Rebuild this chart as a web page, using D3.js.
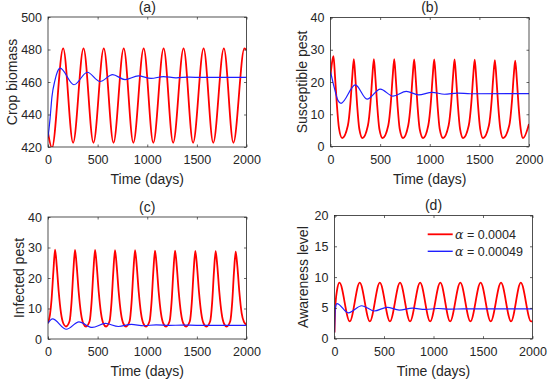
<!DOCTYPE html>
<html>
<head>
<meta charset="utf-8">
<script src="https://cdn.jsdelivr.net/npm/d3@7"></script>
<style>
  html, body { margin: 0; padding: 0; background: #fff; }
  svg { display: block; }
  text { font-family: "Liberation Sans", Arial, Helvetica, sans-serif; fill: #262626; }
</style>
</head>
<body>
<svg id="chart" width="550" height="385"></svg>
<script>
// ---------------- DATA ----------------
const xTicks = [0, 500, 1000, 1500, 2000];
const cropTicks = [420, 440, 460, 480, 500];
const suscTicks = [0, 10, 20, 30, 40];
const infTicks = [0, 10, 20, 30, 40];
const awareTicks = [0, 5, 10, 15, 20];
const panelTitles = ["(a)", "(b)", "(c)", "(d)"];
const yLabels = ["Crop biomass", "Susceptible pest", "Infected pest", "Awareness level"];
const xLabel = "Time (days)";
const legendLabels = ["0.0004", "0.00049"];

// [time, value] pairs
const cropRed = [[0,429],[40,419.5],[153,480.7],[253,422.6],[358,480.7],[458,422.6],[562,480.7],[660,422.6],
  [763,480.7],[860,422.6],[964,480.7],[1061,422.6],[1165,480.7],[1261,422.6],[1366,480.7],[1462,422.6],
  [1568,480.7],[1665,422.6],[1772,480.7],[1868,422.6],[1979,480.7],[2000,479.6]];
const cropBlue = [[0,426],[10,431],[20,437],[40,451],[70,461],[95,466.3],[122,468.5],[262,458.3],[396,466],
  [524,460.3],[651,464.5],[776,461.5],[910,463.8],[1038,462.2],[1162,463.3],[1290,462.6],[1420,463],
  [1550,462.8],[2000,462.8]];

const suscRed = [[0,22],[15,26],[30,28],[46,21.5],[63,13.5],[85,5.8],[118,2.6],
  [175,6.5],[202,14],[219,21.5],[235,27.1],[251,21],[268,13],[290,5.5],[322,2.6],
  [377,6.5],[404,14],[421,21.5],[437,27.1],[453,21],[470,13],[492,5.5],[525,2.6],
  [582,6.5],[609,14],[626,21.5],[642,27.1],[658,21],[675,13],[697,5.5],[731,2.6],
  [783,6.5],[810,14],[827,21.5],[843,27],[859,21],[876,13],[898,5.5],[933,2.6],
  [985,6.5],[1012,14],[1029,21.5],[1045,27],[1061,21],[1078,13],[1100,5.5],[1134,2.6],
  [1190,6.5],[1217,14],[1234,21.5],[1250,27],[1266,21],[1283,13],[1305,5.5],[1336,2.6],
  [1393,6.5],[1420,14],[1437,21.5],[1453,26.9],[1469,21],[1486,13],[1508,5.5],[1537,2.6],
  [1596,6.5],[1623,14],[1640,21.5],[1656,26.8],[1672,21],[1689,13],[1711,5.5],[1739,2.6],
  [1801,6.5],[1828,14],[1845,21.5],[1861,26.6],[1877,21],[1894,13],[1916,5.5],[1940,2.6],
  [2000,7]];
const suscBlue = [[0,23.2],[40,18],[75,14.3],[106,13.4],[250,19.1],[368,14.7],[502,17.8],[630,15.6],
  [764,17.1],[888,16.0],[1023,16.8],[1148,16.2],[1280,16.55],[1410,16.35],[2000,16.4]];

const infRed = [[0,5.2],[20,8],[36,13],[54,22],[71,29.3],[88,24],[108,15.5],[131,8.5],[156,5],[181,4.1],
  [217,5.8],[237,12],[255,22],[272,29.2],[289,24],[309,15.5],[332,8.5],[357,5],[383,4.1],
  [419,5.8],[439,12],[457,22],[474,29.2],[491,24],[511,15.5],[534,8.5],[559,5],[585,4.1],
  [620,5.8],[640,12],[658,22],[675,29.1],[692,24],[712,15.5],[735,8.5],[760,5],[786,4.1],
  [822,5.8],[842,12],[860,22],[877,29.1],[894,24],[914,15.5],[937,8.5],[962,5],[988,4.1],
  [1023,5.8],[1043,12],[1061,22],[1078,29.0],[1095,24],[1115,15.5],[1138,8.5],[1163,5],[1189,4.1],
  [1225,5.8],[1245,12],[1263,22],[1280,29.0],[1297,24],[1317,15.5],[1340,8.5],[1365,5],[1392,4.1],
  [1429,5.8],[1449,12],[1467,22],[1484,28.9],[1501,24],[1521,15.5],[1544,8.5],[1569,5],[1597,4.1],
  [1634,5.8],[1654,12],[1672,22],[1689,28.8],[1706,24],[1726,15.5],[1749,8.5],[1774,5],[1800,4.1],
  [1836,5.8],[1856,12],[1874,22],[1891,28.6],[1908,23.8],[1928,15.4],[1951,8.5],[1976,5.5],[2000,4.6]];
const infBlue = [[0,5.2],[45,6.6],[185,3.2],[312,5.6],[445,3.8],[578,5.1],[710,4.1],[840,4.8],
  [965,4.35],[1090,4.65],[1220,4.45],[1350,4.55],[1500,4.5],[2000,4.5]];

const awareRed = [[0,1],[6,4.5],[25,7.8],[50,9.1],[154,2.8],[255,9.1],[357,2.8],[458,9.1],[560,2.8],
  [662,9.1],[763,2.8],[865,9.1],[966,2.8],[1069,9.1],[1168,2.8],[1271,9.1],[1373,2.8],[1476,9.1],
  [1578,2.8],[1682,9.1],[1783,2.8],[1882,9.1],[1985,2.8],[2000,2.85]];
const awareBlue = [[0,1],[8,5],[25,5.7],[140,4.2],[275,5.35],[402,4.5],[532,5.1],[654,4.65],
  [788,4.95],[915,4.75],[1045,4.9],[1170,4.8],[1300,4.85],[2000,4.85]];

// ---------------- LAYOUT ----------------
const svg = d3.select("#chart");
svg.append("rect").attr("width", 550).attr("height", 385).attr("fill", "#fff");

const panels = [
  { box: {l: 48, r: 246.5, t: 17, b: 147}, yDomain: [420, 500], yTicks: cropTicks, red: cropRed, blue: cropBlue, ylx: 12 },
  { box: {l: 330.5, r: 529, t: 17.5, b: 146.5}, yDomain: [0, 40], yTicks: suscTicks, red: suscRed, blue: suscBlue, ylx: 302 },
  { box: {l: 48, r: 246.5, t: 217, b: 339}, yDomain: [0, 40], yTicks: infTicks, red: infRed, blue: infBlue, ylx: 19 },
  { box: {l: 334.5, r: 532.5, t: 215.5, b: 338.7}, yDomain: [0, 20], yTicks: awareTicks, red: awareRed, blue: awareBlue, ylx: 303.5 }
];

const RED = "#ff0000", BLUE = "#1f1fff", AX = "#262626";
const TICK = 2.5;
const FONT = '"Liberation Sans", Arial, Helvetica, sans-serif';

panels.forEach((p, i) => {
  const {l, r, t, b} = p.box;
  const x = d3.scaleLinear().domain([0, 2000]).range([l, r]);
  const y = d3.scaleLinear().domain(p.yDomain).range([b, t]);
  const g = svg.append("g");

  const clipId = "clip" + i;
  svg.append("clipPath").attr("id", clipId)
    .append("rect").attr("x", l).attr("y", t).attr("width", r - l).attr("height", b - t);

  const line = d3.line().x(d => x(d[0])).y(d => y(d[1])).curve(d3.curveMonotoneX);
  g.append("path").datum(p.red).attr("d", line).attr("fill", "none")
    .attr("stroke", RED).attr("stroke-width", 1.8).attr("clip-path", `url(#${clipId})`);
  g.append("path").datum(p.blue).attr("d", line).attr("fill", "none")
    .attr("stroke", BLUE).attr("stroke-width", 1.2).attr("clip-path", `url(#${clipId})`);

  const fmt = d3.format("d");
  const styleAxis = sel => {
    sel.select(".domain").remove();
    sel.selectAll("line").attr("stroke", AX).attr("stroke-width", 0.7);
    sel.selectAll("text").attr("fill", AX).style("font-size", "12.5px").style("font-family", FONT);
  };
  g.append("g").attr("transform", `translate(0,${b})`)
    .call(d3.axisBottom(x).tickValues(xTicks).tickFormat(fmt).tickSizeInner(-TICK).tickSizeOuter(0).tickPadding(8.5))
    .call(styleAxis);
  g.append("g").attr("transform", `translate(0,${t})`)
    .call(d3.axisTop(x).tickValues(xTicks).tickSizeInner(-TICK).tickSizeOuter(0).tickFormat(() => ""))
    .call(styleAxis);
  g.append("g").attr("transform", `translate(${l},0)`)
    .call(d3.axisLeft(y).tickValues(p.yTicks).tickFormat(fmt).tickSizeInner(-TICK).tickSizeOuter(0).tickPadding(6))
    .call(styleAxis);
  g.append("g").attr("transform", `translate(${r},0)`)
    .call(d3.axisRight(y).tickValues(p.yTicks).tickSizeInner(-TICK).tickSizeOuter(0).tickFormat(() => ""))
    .call(styleAxis);

  g.append("rect").attr("x", l).attr("y", t).attr("width", r - l).attr("height", b - t)
    .attr("fill", "none").attr("stroke", AX).attr("stroke-width", 0.8);

  g.append("text").attr("x", (l + r) / 2).attr("y", t - 5.5)
    .attr("text-anchor", "middle").style("font-size", "14px").text(panelTitles[i]);
  g.append("text").attr("x", (l + r) / 2).attr("y", b + 37)
    .attr("text-anchor", "middle").style("font-size", "14px").text(xLabel);
  g.append("text").attr("transform", `translate(${p.ylx},${(t + b) / 2}) rotate(-90)`)
    .attr("text-anchor", "middle").attr("dy", "0.35em").style("font-size", "14px").text(yLabels[i]);

  if (i === 3) {
    const leg = g.append("g");
    const items = [{c: RED, w: 1.8, lab: legendLabels[0], yy: 234.3}, {c: BLUE, w: 1.4, lab: legendLabels[1], yy: 251.3}];
    items.forEach(it => {
      leg.append("line").attr("x1", 427.7).attr("x2", 452.7).attr("y1", it.yy).attr("y2", it.yy)
        .attr("stroke", it.c).attr("stroke-width", it.w);
      const tx = leg.append("text").attr("x", 455).attr("y", it.yy + 4.2).style("font-size", "12.5px");
      tx.append("tspan").style("font-family", '"DejaVu Serif", "Liberation Serif", serif')
        .style("font-style", "italic").text("α");
      tx.append("tspan").text(" = " + it.lab);
    });
  }
});
</script>
</body>
</html>
